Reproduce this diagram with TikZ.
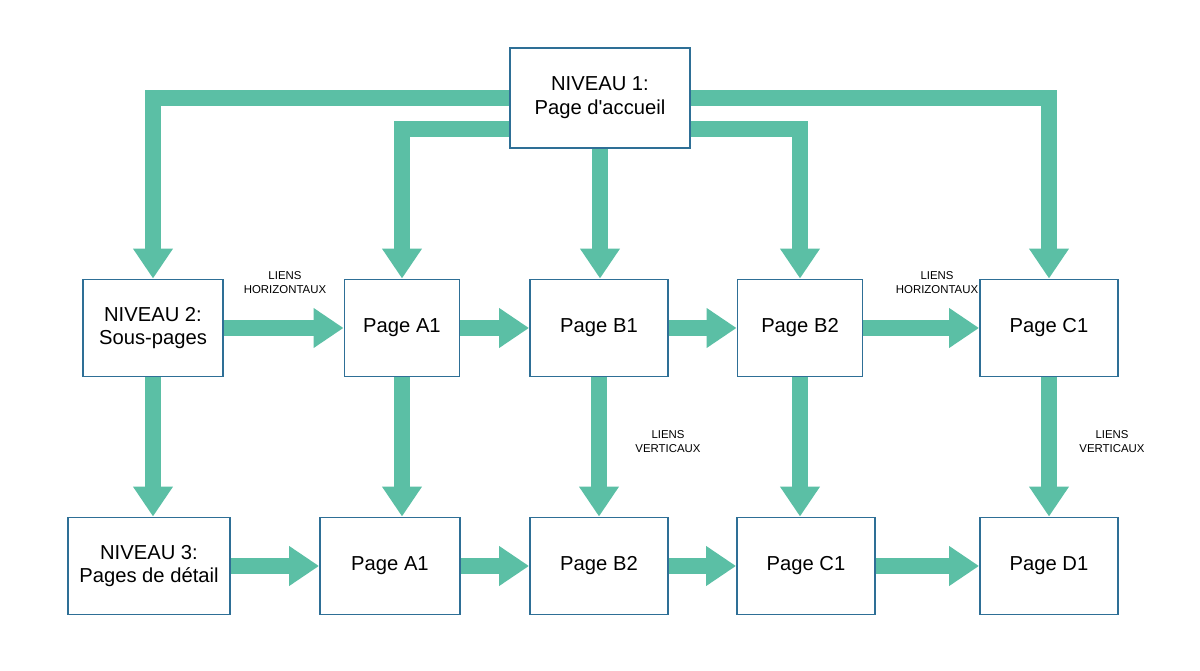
\documentclass[tikz,border=0pt]{standalone}
\usepackage{fontspec}
\setmainfont{Liberation Sans}
\usetikzlibrary{arrows.meta}
\definecolor{lien}{HTML}{5BBFA5}
\definecolor{cadre}{HTML}{2E6F96}
\tikzset{
  page/.style={draw=cadre,line width=1.1pt,fill=white,align=center,
    font=\fontsize{11.5}{13.5}\selectfont,inner sep=0pt},
  fleche/.style={draw=lien,line width=0.32cm,
    -{Triangle[length=0.6cm,width=0.76cm]}},
  etiquette/.style={align=center,font=\fontsize{6.5}{8}\selectfont}
}
\begin{document}
\begin{tikzpicture}[x=0.02cm,y=-0.02cm]
\useasboundingbox (0,0) rectangle (1200,671);
% niveau 1
\node[page,minimum width=3.6cm,minimum height=2cm] (acc) at (600,98) {NIVEAU 1:\\Page d\textquotesingle accueil};
% niveau 2
\node[page,minimum width=2.8cm,minimum height=1.94cm] (n2) at (153,328) {NIVEAU 2:\\Sous-pages};
\node[page,minimum width=2.3cm,minimum height=1.94cm] (a1) at (402,328) {Page A1};
\node[page,minimum width=2.76cm,minimum height=1.94cm] (b1) at (599,328) {Page B1};
\node[page,minimum width=2.5cm,minimum height=1.94cm] (b2) at (800,328) {Page B2};
\node[page,minimum width=2.76cm,minimum height=1.94cm] (c1) at (1049,328) {Page C1};
% niveau 3
\node[page,minimum width=3.24cm,minimum height=1.94cm] (n3) at (149,566) {NIVEAU 3:\\Pages de détail};
\node[page,minimum width=2.8cm,minimum height=1.94cm] (a1b) at (390,566) {Page A1};
\node[page,minimum width=2.76cm,minimum height=1.94cm] (b2b) at (599,566) {Page B2};
\node[page,minimum width=2.76cm,minimum height=1.94cm] (c1b) at (806,566) {Page C1};
\node[page,minimum width=2.76cm,minimum height=1.94cm] (d1b) at (1049,566) {Page D1};
% liens depuis l'accueil
\draw[fleche] (acc.west) -| (n2);
\draw[fleche] (acc.east) -| (c1);
\draw[fleche] ([yshift=-0.62cm]acc.west) -| (a1);
\draw[fleche] ([yshift=-0.62cm]acc.east) -| (b2);
\draw[fleche] (acc.south) -- (acc.south |- b1.north);
% liens horizontaux
\draw[fleche] (n2) -- (a1);
\draw[fleche] (a1) -- (b1);
\draw[fleche] (b1) -- (b2);
\draw[fleche] (b2) -- (c1);
\draw[fleche] (n3) -- (a1b);
\draw[fleche] (a1b) -- (b2b);
\draw[fleche] (b2b) -- (c1b);
\draw[fleche] (c1b) -- (d1b);
% liens verticaux
\draw[fleche] (n2.south) -- (n2.south |- n3.north);
\draw[fleche] (a1.south) -- (a1.south |- a1b.north);
\draw[fleche] (b1) -- (b2b);
\draw[fleche] (b2.south) -- (b2.south |- c1b.north);
\draw[fleche] (c1) -- (d1b);
% etiquettes
\node[etiquette] (eh1) at (285,283) {LIENS\\HORIZONTAUX};
\node[etiquette] (eh2) at (937,283) {LIENS\\HORIZONTAUX};
\node[etiquette] (ev1) at (668,442) {LIENS\\VERTICAUX};
\node[etiquette] (ev2) at (1112,442) {LIENS\\VERTICAUX};
\end{tikzpicture}
\end{document}
